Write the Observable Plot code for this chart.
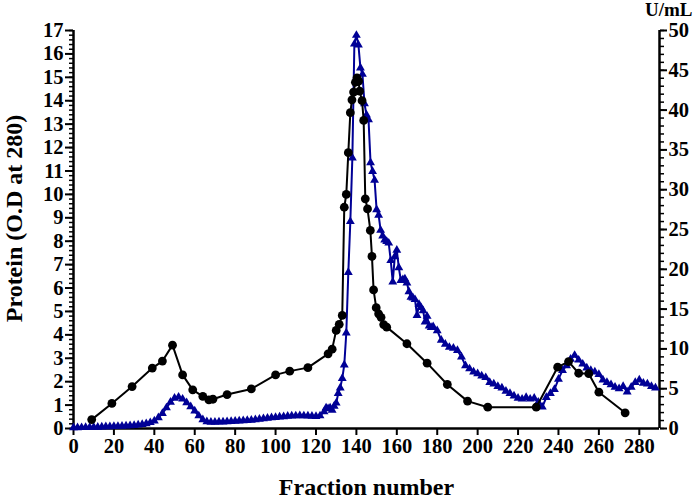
<!DOCTYPE html>
<html>
<head>
<meta charset="utf-8">
<script src="https://cdn.jsdelivr.net/npm/d3@7"></script>
<script src="https://cdn.jsdelivr.net/npm/@observablehq/plot@0.6"></script>
<style>
  html, body { margin: 0; padding: 0; background: #fff; }
  #chart svg { display: block; }
</style>
</head>
<body>
<div id="chart"></div>
<script>
// Protein (O.D at 280) – black circles, left axis
const proteinFraction = [9,19,29,39,44,49,54,59,64,67,69,76,88,100,107,116,126,128,130,131.5,133,134,135,136,137,137.8,138.6,139.5,140.3,141.1,141.6,142.8,143.6,144.4,145.5,146.9,147.7,148.5,149.8,151,152.2,153.5,155,165,175,185,195,205,229,239.6,245,250,255,260,273];
const proteinOD = [0.38,1.07,1.79,2.58,2.88,3.56,2.29,1.65,1.37,1.22,1.25,1.45,1.69,2.29,2.45,2.6,3.19,3.39,4.19,4.45,4.83,9.45,10.0,11.78,13.49,14.04,14.37,14.79,14.98,14.84,14.41,14.0,13.16,9.81,9.38,8.46,7.35,5.92,5.16,4.9,4.75,4.44,4.33,3.62,2.79,1.88,1.17,0.91,0.91,2.62,2.86,2.36,2.34,1.55,0.67];

// Activity (U/mL) – blue triangles, right axis
const activityFraction = [0,2,4,6,8,10,12,14,16,18,20,22,24,26,28,30,32,34,36,38,40,42,44,46,48,50,52,54,56,58,60,62,64,66,68,70,72,74,76,78,80,82,84,86,88,90,92,94,96,98,100,102,104,106,108,110,112,114,116,118,120,122,124,125,126,127,128,129,130,131,132,133,134,135,136,137,138,139,140,141,142,143,144,145,146,147,148,149,150,151,152,153,154,155,156,157,158,159,160,161,162,163,164,165,166,167,168,169,170,171,172,173,174,175,176,177,178,180,182,184,186,188,190,192,194,196,198,200,202,204,206,208,210,212,214,216,218,220,222,224,226,228,230,232,234,236,238,240,242,244,246,248,250,252,254,256,258,260,262,264,266,268,270,272,274,276,278,280,282,284,286,288];
const activityU = [0.10,0.10,0.12,0.13,0.15,0.17,0.18,0.20,0.22,0.24,0.26,0.28,0.30,0.33,0.36,0.40,0.45,0.52,0.62,0.75,0.95,1.35,1.9,2.6,3.3,3.8,3.95,3.7,3.25,2.75,2.2,1.6,1.1,0.85,0.8,0.8,0.82,0.84,0.86,0.88,0.92,0.95,0.98,1.02,1.06,1.12,1.18,1.24,1.3,1.35,1.4,1.45,1.5,1.55,1.58,1.6,1.62,1.6,1.58,1.55,1.52,1.6,2.1,2.6,2.5,2.6,2.3,2.8,3.2,4.4,5.1,6.3,8.0,12.0,19.6,26.0,34.0,48.3,49.4,48.2,45.3,44.5,40.8,39.4,38.8,33.4,32.3,31.2,27.5,26.8,24.9,24.2,23.7,23.5,23.3,21.1,18.4,21.6,22.4,20.2,18.6,18.7,18.8,18.3,17.2,16.5,16.4,16.2,14.2,15.6,15.2,14.8,13.4,14.1,12.9,12.7,12.8,12.3,11.1,10.6,10.2,10.1,9.8,9.0,7.9,7.5,7.1,6.9,6.6,6.4,5.8,5.6,5.3,5.1,4.7,4.4,4.1,3.8,3.7,3.9,3.7,3.8,3.3,2.7,3.9,4.4,4.9,6.2,7.3,7.9,8.7,9.2,8.6,8.1,7.6,7.3,7.1,6.8,6.1,5.8,5.5,5.2,5.0,5.3,4.6,5.2,5.8,6.1,5.7,5.6,5.3,5.1];

// Axis ticks
const xTicks = [0,20,40,60,80,100,120,140,160,180,200,220,240,260,280];
const leftTicks = [0,1,2,3,4,5,6,7,8,9,10,11,12,13,14,15,16,17];
const rightTicks = [0,5,10,15,20,25,30,35,40,45,50];

const leftMax = 17, rightMax = 50;
const k = leftMax / rightMax;
const BLUE = "#000096";
const FONT = "Liberation Serif";

const protein = proteinFraction.map((f, i) => ({f, v: proteinOD[i]}));
const activity = activityFraction.map((f, i) => ({f, v: activityU[i] * k}));
const leftMinor = d3.range(0, leftMax * 5 + 1).map(i => i / 5);
const rightMinor = d3.range(0, rightMax + 1).map(v => v * k);

const chart = Plot.plot({
  width: 697,
  height: 499,
  marginLeft: 73,
  marginRight: 38,
  marginTop: 30,
  marginBottom: 71,
  style: {fontFamily: FONT, fontWeight: "bold", fontSize: "20.5px", color: "#000", background: "#fff"},
  x: {domain: [0, 290]},
  y: {domain: [0, leftMax]},
  marks: [
    // axes
    Plot.axisX({ticks: xTicks, tickSize: 7, strokeWidth: 2, tickPadding: 3, label: null, fontSize: 20.5}),
    Plot.axisY({ticks: leftMinor, tickSize: 4, strokeWidth: 1.5, tickFormat: () => "", label: null}),
    Plot.axisY({ticks: leftTicks, tickSize: 8, strokeWidth: 2, tickPadding: 2, label: null, fontSize: 20.5}),
    Plot.axisY({anchor: "right", ticks: rightMinor, tickSize: 4, strokeWidth: 1.5, tickFormat: () => "", label: null}),
    Plot.axisY({anchor: "right", ticks: rightTicks.map(v => v * k), tickSize: 7, strokeWidth: 2, tickPadding: 2,
      tickFormat: d => String(Math.round(d / k)), label: null, fontSize: 20.5}),
    Plot.ruleX([0], {strokeWidth: 2.5}),
    Plot.ruleX([290], {strokeWidth: 2.5}),
    Plot.ruleY([0], {strokeWidth: 2.5}),
    // activity series
    Plot.line(activity, {x: "f", y: "v", stroke: BLUE, strokeWidth: 2}),
    Plot.dot(activity, {x: "f", y: "v", symbol: "triangle", fill: BLUE, r: 3.3}),
    // protein series
    Plot.line(protein, {x: "f", y: "v", stroke: "#000", strokeWidth: 2}),
    Plot.dot(protein, {x: "f", y: "v", fill: "#000", r: 4.4}),
    // titles
    Plot.text(["Fraction number"], {frameAnchor: "bottom", lineAnchor: "middle", textAnchor: "middle", dy: 59, fontSize: 24, fontWeight: "bold", fontFamily: FONT, fill: "#000"}),
    Plot.text(["Protein (O.D at 280)"], {frameAnchor: "left", lineAnchor: "middle", textAnchor: "middle", dx: -59, dy: -11, rotate: -90, fontSize: 24, fontWeight: "bold", fontFamily: FONT, fill: "#000"}),
    Plot.text(["U/mL"], {frameAnchor: "top-right", lineAnchor: "middle", textAnchor: "end", dx: 33, dy: -21, fontSize: 19, fontWeight: "bold", fontFamily: FONT, fill: "#000"})
  ]
});
document.getElementById("chart").appendChild(chart);
</script>
</body>
</html>
